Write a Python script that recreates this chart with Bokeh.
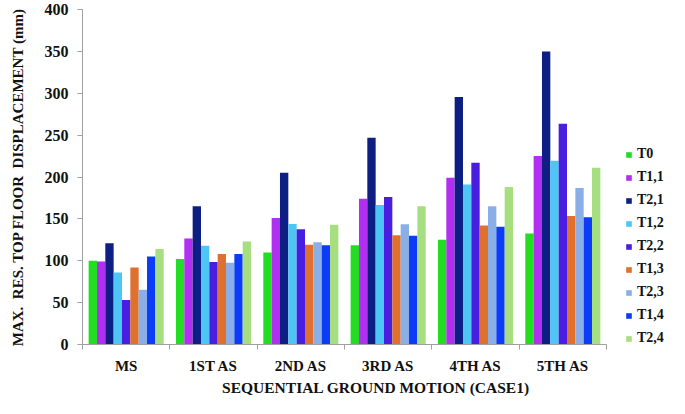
from bokeh.plotting import figure
from bokeh.models import FixedTicker, Legend, LegendItem, Range1d
from bokeh.embed import file_html
from bokeh.resources import INLINE

categories = ["MS", "1ST AS", "2ND AS", "3RD AS", "4TH AS", "5TH AS"]
series = ["T0", "T1,1", "T2,1", "T1,2", "T2,2", "T1,3", "T2,3", "T1,4", "T2,4"]

T0 = [100, 102, 110, 118.5, 125, 132.5]
T1_1 = [99, 126.5, 151, 174, 199, 225]
T2_1 = [121, 165, 205, 247, 295.5, 350]
T1_2 = [86, 118, 144, 166.5, 191, 219.5]
T2_2 = [53, 98.5, 137.5, 176, 217, 263.5]
T1_3 = [92, 108, 119, 130.5, 142, 153.5]
T2_3 = [65.5, 97.5, 122, 143.5, 165, 187]
T1_4 = [105, 108, 118.5, 130, 140.5, 152]
T2_4 = [114, 123, 143, 165, 188, 211]

colors = ["#22dd22", "#b02ff0", "#0d1f82", "#4dc6f5", "#4a1ee0",
          "#e0702e", "#8aaee6", "#0c3cf8", "#a6de80"]
y_ticks = [0, 50, 100, 150, 200, 250, 300, 350, 400]

values = [T0, T1_1, T2_1, T1_2, T2_2, T1_3, T2_3, T1_4, T2_4]

FONT = "Liberation Serif"
AXIS_COLOR = "#a0a0a0"
TEXT_COLOR = "#111111"
NC = len(categories)
LEFT = 82
FRAME_W = 669 - LEFT
X_END = NC * FRAME_W / 524  # extra room on the right of the frame for the legend

p = figure(width=669, height=398, output_backend="svg", toolbar_location=None,
           x_range=Range1d(0, X_END), y_range=Range1d(0, 400),
           min_border_left=LEFT, min_border_right=0, min_border_top=9,
           min_border_bottom=0)
p.outline_line_color = None
p.xgrid.grid_line_color = None
p.ygrid.grid_line_color = None

bw = 0.0955
n = len(series)
items = []
for j, (name, vals, col) in enumerate(zip(series, values, colors)):
    xs = [i + 0.5 + (j - (n - 1) / 2) * bw for i in range(NC)]
    r = p.vbar(x=xs, top=vals, width=bw, bottom=0, fill_color=col, line_color=None)
    items.append(LegendItem(label=name, renderers=[r]))

# x axis: labels at category centres, separators at boundaries
xa = p.xaxis[0]
xa.bounds = (0, NC)
xa.ticker = FixedTicker(ticks=[i + 0.5 for i in range(NC)],
                        minor_ticks=list(range(NC + 1)))
xa.major_label_overrides = {i + 0.5: c for i, c in enumerate(categories)}
xa.major_tick_line_color = None
xa.major_tick_out = 0
xa.major_tick_in = 0
xa.minor_tick_line_color = AXIS_COLOR
xa.minor_tick_out = 5
xa.minor_tick_in = 0
xa.axis_line_color = AXIS_COLOR
xa.major_label_standoff = 8
xa.major_label_text_font = FONT
xa.major_label_text_font_style = "bold"
xa.major_label_text_font_size = "15px"
xa.major_label_text_color = TEXT_COLOR
xa.axis_label = "SEQUENTIAL GROUND MOTION (CASE1)"
xa.axis_label_text_font = FONT
xa.axis_label_text_font_style = "bold"
xa.axis_label_text_font_size = "15.5px"
xa.axis_label_text_color = TEXT_COLOR
xa.axis_label_standoff = 2

ya = p.yaxis[0]
ya.ticker = FixedTicker(ticks=y_ticks)
ya.minor_tick_line_color = None
ya.major_tick_line_color = AXIS_COLOR
ya.major_tick_out = 5
ya.major_tick_in = 0
ya.axis_line_color = AXIS_COLOR
ya.major_label_standoff = 9
ya.major_label_text_font = FONT
ya.major_label_text_font_style = "bold"
ya.major_label_text_font_size = "16px"
ya.major_label_text_color = TEXT_COLOR
ya.axis_label = "MAX.\u00a0\u00a0RES. TOP FLOOR\u00a0\u00a0DISPLACEMENT (mm)"
ya.axis_label_text_font = FONT
ya.axis_label_text_font_style = "bold"
ya.axis_label_text_font_size = "15px"
ya.axis_label_text_color = TEXT_COLOR
ya.axis_label_standoff = 16

legend = Legend(items=items, location=(625 - LEFT, -2), margin=0, padding=0,
                spacing=7, label_height=16, glyph_height=7, glyph_width=7,
                label_standoff=5, border_line_color=None,
                background_fill_alpha=0,
                label_text_font=FONT, label_text_font_style="bold",
                label_text_font_size="14px", label_text_color=TEXT_COLOR)
p.add_layout(legend, "center")

open("out.html", "w").write(file_html(p, INLINE))
